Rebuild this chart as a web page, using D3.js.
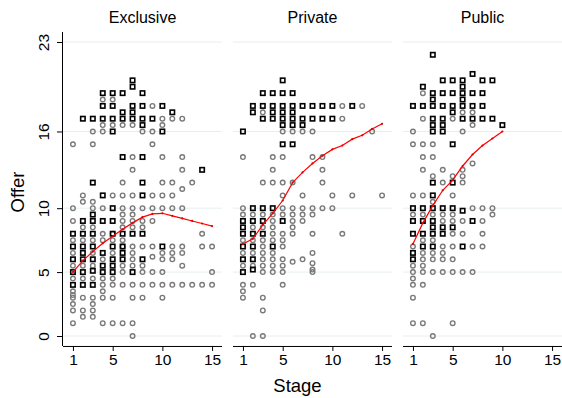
<!DOCTYPE html>
<html>
<head>
<meta charset="utf-8">
<script src="https://cdn.jsdelivr.net/npm/d3@7"></script>
<style>
  body { margin: 0; background: #fff; }
  svg { font-family: "Liberation Sans", Arial, sans-serif; }
</style>
</head>
<body>
<div id="chart"></div>
<script>
// offers per stage (index 0 = stage 1)
const panelNames = ['Exclusive', 'Private', 'Public'];
const yTicks = [0, 5, 10, 16, 23];
const xTicks = [1, 5, 10, 15];

const exclusiveCircles = [
  [15, 10, 9, 7.5, 6.5, 5.5, 4.5, 3.5, 3.2, 3, 2.5, 2, 1],
  [11, 10.5, 8.5, 7.5, 5.5, 4.5, 3, 2, 1.5],
  [16, 15, 10.5, 10, 8.5, 7.5, 6.5, 5.5, 4.5, 3, 2.5, 2, 1.5],
  [18.5, 16.5, 16, 10, 8, 7.5, 6, 4.5, 4, 3.5, 3, 1],
  [18.5, 16.5, 11, 8, 7.5, 6.5, 4.5, 4, 3, 1],
  [16.5, 12, 11, 10, 9.5, 9, 8.5, 7.5, 7, 5.5, 5, 4, 1],
  [16.5, 14, 13, 11, 10, 9.5, 9, 8.5, 7, 6.5, 6, 5.5, 4, 3, 1, 0],
  [16, 10, 9, 8.5, 7, 5.5, 5, 4, 3],
  [18, 16, 15, 11, 10, 9, 7, 6.2, 5, 4],
  [17, 16.5, 14, 12, 11, 10, 6.5, 6, 5, 4, 3],
  [17, 12, 11, 10, 7, 6.5, 6, 4],
  [17, 14, 13, 11.5, 10, 7, 6.5, 5.5, 4],
  [12, 4],
  [8, 7, 4],
  [7, 5, 4]
];
const exclusiveSquares = [
  [8, 7, 6, 5, 4],
  [17, 9, 8, 7, 6.5, 6, 5, 4],
  [17, 12, 9.5, 9, 8, 7, 6, 5.1, 4],
  [19, 18, 17, 11, 9, 6.5, 5.5, 5],
  [19, 18, 17, 16, 10, 9, 8, 7, 6, 5.5, 5],
  [19, 17.5, 17, 14, 8, 7, 6.5, 6],
  [20, 19.5, 18, 17.5, 17, 8, 5],
  [19, 18, 17, 16.5, 14, 12, 11, 8, 6],
  [17],
  [18, 16, 7],
  [17.5],
  [],
  [],
  [13],
  []
];

const privateCircles = [
  [14, 10, 9.5, 7.5, 6.5, 5.5, 4, 3.5, 3],
  [9.5, 8.5, 7.5, 6.5, 5.5, 4, 0],
  [17.5, 12, 9.5, 8.5, 7.5, 7, 6.5, 6, 5.5, 5, 3, 2, 0],
  [14, 13, 12, 9.5, 9, 8.5, 8, 7.5, 6.5, 6, 5.5, 5],
  [16, 14, 12, 11, 10, 9.5, 8, 7.5, 7, 6, 5.5, 5, 4],
  [16, 12, 10, 9.5, 9, 8.5, 8, 5.8],
  [16, 11, 10, 9.5, 9, 6],
  [16, 14, 10, 9.5, 8, 6.5, 5.7, 5.2, 5],
  [14, 13, 12, 10],
  [11, 10],
  [18, 17, 8],
  [11],
  [18],
  [16],
  [11]
];
const privateSquares = [
  [16, 9, 8.5, 8, 7, 6, 5],
  [18, 17.5, 10, 9, 8, 7, 6, 5.2],
  [19, 18, 17, 10, 9, 8],
  [19, 18, 17.5, 17, 10, 7],
  [20, 19, 18, 17.5, 17, 16.5, 15, 9],
  [19, 18, 17.5, 17, 16.5, 15],
  [18, 17, 16.5],
  [18, 17],
  [18, 17],
  [18, 17],
  [],
  [18],
  [],
  [],
  []
];

const publicCircles = [
  [16, 15, 11, 9.5, 7, 5.5, 5, 4.5, 4, 3, 1],
  [19, 17, 15, 14, 13, 11, 9.5, 7.5, 6.5, 6, 5.5, 5, 4, 1],
  [15, 14, 12.5, 10.5, 9.5, 7.5, 6.5, 6, 5, 0],
  [13, 12, 9.5, 9, 7, 6.5, 6, 5],
  [17, 12.5, 11, 9.5, 9, 8, 7, 6, 5, 1],
  [17.5, 16, 13, 12.5, 12, 9, 8, 5],
  [17.5, 16.5, 13.5, 10, 7, 5],
  [10, 9, 8, 7],
  [10, 9.5],
  []
];
const publicSquares = [
  [18, 10, 9, 8, 6.5, 6],
  [19.5, 18, 10, 9, 8, 7],
  [22, 19, 18.5, 18, 17, 16.5, 16, 12, 11, 10, 9, 8.5, 8, 7],
  [20, 19, 18, 17, 16.5, 16, 10, 8.5, 8],
  [20, 19, 18, 17.5, 15, 12, 10, 8.5],
  [20, 19.5, 19, 18.5, 18, 17, 9.8, 7],
  [20.5, 19, 18, 17, 9],
  [20, 19, 18, 17],
  [20, 17],
  [16.5]
];

// smoothed red line, one value per stage
const exclusiveLine = [5.0, 5.9, 6.6, 7.25, 7.8, 8.35, 8.85, 9.3, 9.55, 9.6, 9.4, 9.2, 9.0, 8.8, 8.6];
const privateLine = [7.2, 7.6, 8.7, 9.6, 10.6, 12.0, 12.8, 13.5, 14.1, 14.6, 14.9, 15.4, 15.7, 16.2, 16.6];
const publicLine = [7.2, 8.85, 10.2, 11.4, 12.2, 13.3, 14.2, 14.9, 15.45, 16.0];

const circleSets = [exclusiveCircles, privateCircles, publicCircles];
const squareSets = [exclusiveSquares, privateSquares, publicSquares];
const lineSets = [exclusiveLine, privateLine, publicLine];

const flatten = (sets) => sets.flatMap((vals, i) => vals.map(v => ({ stage: i + 1, offer: v })));

const width = 562, height = 398;
const panelLefts = [63, 233, 403];
const panelW = 159;

const svg = d3.select('#chart').append('svg')
  .attr('width', width)
  .attr('height', height);

const y = d3.scaleLinear().domain([0, 23]).range([336, 42]);
const yTop = y(23.78), yBottom = y(-0.78);

panelLefts.forEach((x0, p) => {
  const x = d3.scaleLinear().domain([0, 16]).range([x0, x0 + panelW]);
  const g = svg.append('g');

  // gridlines
  g.selectAll('line.grid')
    .data(yTicks)
    .enter()
    .append('line')
    .attr('x1', x0)
    .attr('x2', x0 + panelW)
    .attr('y1', d => y(d))
    .attr('y2', d => y(d))
    .style('stroke', '#e6eeef')
    .style('stroke-width', 1);

  // x axis
  const xAxis = d3.axisBottom(x).tickValues(xTicks).tickSize(5).tickPadding(3);
  const ax = g.append('g')
    .attr('transform', `translate(0,${yBottom})`)
    .call(xAxis);
  ax.select('.domain').attr('d', `M${x0},0.5H${x0 + panelW}`).style('stroke', '#000');
  ax.selectAll('.tick line').style('stroke', '#000');
  ax.selectAll('.tick text')
    .style('font-size', '15.5px')
    .style('font-family', '"Liberation Sans", Arial, sans-serif')
    .style('fill', '#000');

  // panel title
  g.append('text')
    .attr('x', x0 + panelW / 2)
    .attr('y', 23)
    .attr('text-anchor', 'middle')
    .style('font-size', '16px')
    .text(panelNames[p]);

  // gray circles
  g.selectAll('circle.pt')
    .data(flatten(circleSets[p]))
    .enter()
    .append('circle')
    .attr('cx', d => x(d.stage))
    .attr('cy', d => y(d.offer))
    .attr('r', 2.3)
    .style('fill', 'none')
    .style('stroke', '#7a7a7a')
    .style('stroke-width', 1.4);

  // black squares
  const s = 4.4;
  g.selectAll('rect.pt')
    .data(flatten(squareSets[p]))
    .enter()
    .append('rect')
    .attr('x', d => x(d.stage) - s / 2)
    .attr('y', d => y(d.offer) - s / 2)
    .attr('width', s)
    .attr('height', s)
    .style('fill', 'none')
    .style('stroke', '#000')
    .style('stroke-width', 1.6);

  // red fitted line
  const lineData = lineSets[p].map((v, i) => ({ stage: i + 1, offer: v }));
  const line = d3.line().x(d => x(d.stage)).y(d => y(d.offer));
  g.append('path')
    .datum(lineData)
    .attr('d', line)
    .style('fill', 'none')
    .style('stroke', '#ff0000')
    .style('stroke-width', 1.2);
  g.selectAll('circle.fit')
    .data(lineData)
    .enter()
    .append('circle')
    .attr('cx', d => x(d.stage))
    .attr('cy', d => y(d.offer))
    .attr('r', 1.1)
    .style('fill', '#e00000');
});

// y axis, first panel only
const yAxis = d3.axisLeft(y).tickValues(yTicks).tickSize(6).tickPadding(4);
const ay = svg.append('g')
  .attr('transform', `translate(${panelLefts[0]},0)`)
  .call(yAxis);
ay.select('.domain').attr('d', `M-0.5,${yTop}V${yBottom}`).style('stroke', '#000');
ay.selectAll('.tick line').style('stroke', '#000');
ay.selectAll('.tick text')
  .attr('x', null)
  .attr('dy', null)
  .attr('text-anchor', 'middle')
  .attr('transform', 'translate(-14,0) rotate(-90)')
  .style('font-size', '15.5px')
  .style('font-family', '"Liberation Sans", Arial, sans-serif')
  .style('fill', '#000');

// axis titles
svg.append('text')
  .attr('transform', 'translate(24,192) rotate(-90)')
  .attr('text-anchor', 'middle')
  .style('font-size', '18.5px')
  .text('Offer');

svg.append('text')
  .attr('x', 297.5)
  .attr('y', 392)
  .attr('text-anchor', 'middle')
  .style('font-size', '18.5px')
  .text('Stage');
</script>
</body>
</html>
